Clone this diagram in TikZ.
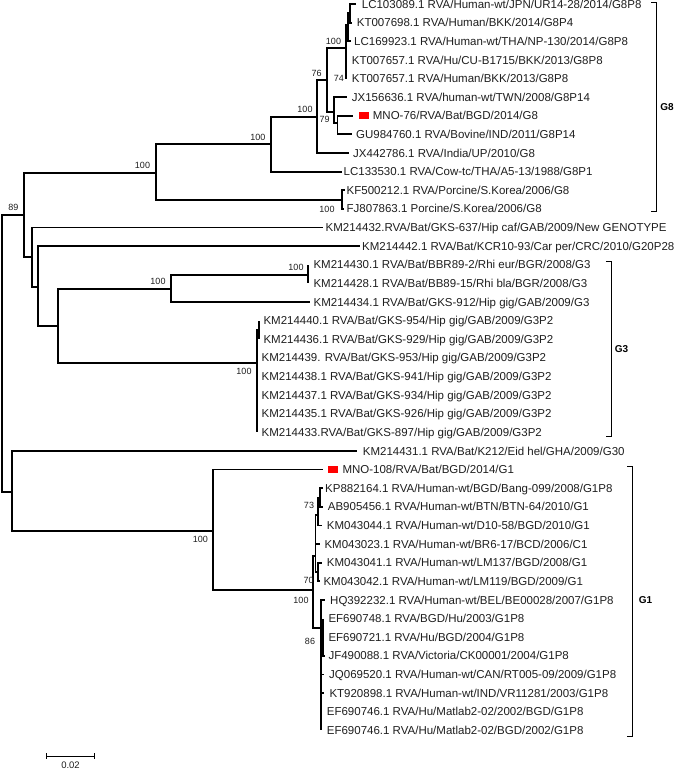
\documentclass[tikz,border=0pt]{standalone}
\usepackage{fontspec}
\setmainfont{Liberation Sans}
\begin{document}
\begin{tikzpicture}[x=1pt,y=-1pt,
  br/.style={line width=1.8pt, line join=miter},
  tip/.style={anchor=base west, inner sep=0pt, yshift=-4.1pt, font=\fontsize{11.5}{13}\selectfont, text=black!88},
  bs/.style={inner sep=0pt, font=\fontsize{9}{10}\selectfont, text=black!88},
  grp/.style={inner sep=0pt, font=\fontsize{10}{12}\selectfont\bfseries},
  brk/.style={line width=1pt, line join=miter},
  sq/.style={fill=red, draw=none, minimum width=10pt, minimum height=7.5pt, inner sep=0pt}]
\fill[white] (0,0) rectangle (676,769);
\useasboundingbox (0,0) rectangle (676,769);

% ---------- internal nodes ----------
\coordinate (root) at (2,353);
\coordinate (n89) at (24,215);
\coordinate (nG8) at (155.7,172.7);
\coordinate (n270) at (270.7,144.3);
\coordinate (nA) at (316.7,116.7);
\coordinate (nB) at (326.7,80);
\coordinate (nC) at (346,48.3);
\coordinate (nE) at (348,25);
\coordinate (nF) at (350,13);
\coordinate (nD) at (334,111.7);
\coordinate (nG) at (337.5,123);
\coordinate (nKF) at (341.7,200.3);
\coordinate (n32) at (32.3,257);
\coordinate (nH) at (38.3,286.7);
\coordinate (nI) at (57.7,326);
\coordinate (nJ) at (170.7,289.3);
\coordinate (nL) at (308.3,275.3);
\coordinate (nK) at (256.7,363.3);
\coordinate (nM) at (258.7,330);
\coordinate (nR) at (12.3,491.7);
\coordinate (nG1a) at (213.3,531);
\coordinate (nG1b) at (313.3,590);
\coordinate (n70) at (315.5,556);
\coordinate (n73) at (318,515);
\coordinate (nKP) at (320,498);
\coordinate (n41) at (318.3,572);
\coordinate (n86) at (320.7,628);
\coordinate (nEF) at (323.3,637.2);

% ---------- tip ends ----------
\coordinate (t1) at (356,4);
\coordinate (t2) at (352,22.6);
\coordinate (t3) at (351,41.2);
\coordinate (t4) at (346,59.9);
\coordinate (t5) at (346,78.5);
\coordinate (t6) at (346.7,97.1);
\coordinate (t7) at (353,115.7);
\coordinate (t8) at (351.7,134.3);
\coordinate (t9) at (349,153);
\coordinate (t10) at (341.7,171.6);
\coordinate (t11) at (345,190.2);
\coordinate (t12) at (344,208.8);
\coordinate (t13) at (323.3,227.4);
\coordinate (t14) at (359.5,246.1);
\coordinate (t15) at (308.3,264.7);
\coordinate (t16) at (308.3,283.3);
\coordinate (t17) at (310,301.9);
\coordinate (t18) at (258.7,320.5);
\coordinate (t19) at (258.7,339.2);
\coordinate (t20) at (256.7,357.8);
\coordinate (t21) at (256.7,376.4);
\coordinate (t22) at (256.7,395);
\coordinate (t23) at (256.7,413.6);
\coordinate (t24) at (256.7,432.3);
\coordinate (t25) at (356.7,450.9);
\coordinate (t26) at (323.3,469.5);
\coordinate (t27) at (323,488.1);
\coordinate (t28) at (323,506.7);
\coordinate (t29) at (322,525.4);
\coordinate (t30) at (320,544);
\coordinate (t31) at (321.5,562.6);
\coordinate (t32) at (320,581.3);
\coordinate (t33) at (324.5,599.9);
\coordinate (t34) at (323.3,618.5);
\coordinate (t35) at (323.3,637.2);
\coordinate (t36) at (325,655.8);
\coordinate (t37) at (323.5,674.4);
\coordinate (t38) at (323.5,693);
\coordinate (t39) at (320.7,711.7);
\coordinate (t40) at (320.7,730.3);

% ---------- branches ----------
\draw[br] (root) |- (n89);
\draw[br] (root) |- (nR);
\draw[br] (n89) |- (nG8);
\draw[br] (n89) |- (n32);
\draw[br] (nG8) |- (n270);
\draw[br] (nG8) |- (nKF);
\draw[br] (n270) |- (nA);
\draw[br] (n270) |- (t10);
\draw[br] (nA) |- (nB);
\draw[br] (nA) |- (t9);
\draw[br] (nB) |- (nC);
\draw[br] (nB) |- (nD);
\draw[br] (nC) |- (nE);
\draw[br] (nC) |- (t4);
\draw[br] (nC) |- (t5);
\draw[br] (nE) |- (nF);
\draw[br] (nE) |- (t3);
\draw[br] (nF) |- (t1);
\draw[br] (nF) |- (t2);
\draw[br] (nD) |- (t6);
\draw[br] (nD) |- (nG);
\draw[br] (nG) |- (t7);
\draw[br] (nG) |- (t8);
\draw[br] (nKF) |- (t11);
\draw[br] (nKF) |- (t12);
\draw[br] (n32) |- (t13);
\draw[br] (n32) |- (nH);
\draw[br] (nH) |- (t14);
\draw[br] (nH) |- (nI);
\draw[br] (nI) |- (nJ);
\draw[br] (nI) |- (nK);
\draw[br] (nJ) |- (nL);
\draw[br] (nJ) |- (t17);
\draw[br] (nL) |- (t15);
\draw[br] (nL) |- (t16);
\draw[br] (nK) |- (nM);
\draw[br] (nM) |- (t18);
\draw[br] (nM) |- (t19);
\draw[br] (nK) |- (t20);
\draw[br] (nK) |- (t21);
\draw[br] (nK) |- (t22);
\draw[br] (nK) |- (t23);
\draw[br] (nK) |- (t24);
\draw[br] (nR) |- (t25);
\draw[br] (nR) |- (nG1a);
\draw[br] (nG1a) |- (t26);
\draw[br] (nG1a) |- (nG1b);
\draw[br] (nG1b) |- (n70);
\draw[br] (nG1b) |- (n86);
\draw[br] (n70) |- (n73);
\draw[br] (n70) |- (t30);
\draw[br] (n70) |- (n41);
\draw[br] (n73) |- (nKP);
\draw[br] (n73) |- (t29);
\draw[br] (nKP) |- (t27);
\draw[br] (nKP) |- (t28);
\draw[br] (n41) |- (t31);
\draw[br] (n41) |- (t32);
\draw[br] (n86) |- (t33);
\draw[br] (n86) |- (nEF);
\draw[br] (nEF) |- (t34);
\draw[br] (nEF) |- (t35);
\draw[br] (nEF) |- (t36);
\draw[br] (n86) |- (t37);
\draw[br] (n86) |- (t38);
\draw[br] (n86) |- (t39);
\draw[br] (n86) |- (t40);

% ---------- bootstrap values ----------
\node[bs] (b89) at (13.3,207.3) {89};
\node[bs] (bG8) at (142.5,165) {100};
\node[bs] (b270) at (257.8,137.3) {100};
\node[bs] (bA) at (305,109.3) {100};
\node[bs] (b76) at (316.7,73.3) {76};
\node[bs] (bC) at (333.5,41.7) {100};
\node[bs] (b74) at (338.8,78.7) {74};
\node[bs] (b79) at (324.7,119.3) {79};
\node[bs] (bKF) at (327,209) {100};
\node[bs] (bJ) at (158,281.7) {100};
\node[bs] (bL) at (296,267.3) {100};
\node[bs] (bK) at (244,371.7) {100};
\node[bs] (bG1a) at (200.3,539.3) {100};
\node[bs] (bG1b) at (301,600) {100};
\node[bs] (b73) at (309,505) {73};
\node[bs] (b70) at (308.7,580) {70};
\node[bs] (b86) at (310,641) {86};

% ---------- highlighted taxa ----------
\node[sq] (s76) at (364.3,115.7) {};
\node[sq] (s108) at (333.3,469.7) {};

% ---------- tip labels ----------
\node[tip] (L1) at (361.7,4) {LC103089.1 RVA/Human-wt/JPN/UR14-28/2014/G8P8};
\node[tip] (L2) at (356.7,22.6) {KT007698.1 RVA/Human/BKK/2014/G8P4};
\node[tip] (L3) at (354,41.2) {LC169923.1 RVA/Human-wt/THA/NP-130/2014/G8P8};
\node[tip] (L4) at (351.7,59.9) {KT007657.1 RVA/Hu/CU-B1715/BKK/2013/G8P8};
\node[tip] (L5) at (351.7,78.5) {KT007657.1 RVA/Human/BKK/2013/G8P8};
\node[tip] (L6) at (351.7,97.1) {JX156636.1 RVA/human-wt/TWN/2008/G8P14};
\node[tip] (L7) at (372.7,115.7) {MNO-76/RVA/Bat/BGD/2014/G8};
\node[tip] (L8) at (356,134.3) {GU984760.1 RVA/Bovine/IND/2011/G8P14};
\node[tip] (L9) at (353,153) {JX442786.1 RVA/India/UP/2010/G8};
\node[tip] (L10) at (343.5,171.6) {LC133530.1 RVA/Cow-tc/THA/A5-13/1988/G8P1};
\node[tip] (L11) at (346.5,190.2) {KF500212.1 RVA/Porcine/S.Korea/2006/G8};
\node[tip] (L12) at (346.5,208.8) {FJ807863.1 Porcine/S.Korea/2006/G8};
\node[tip] (L13) at (325.5,227.4) {KM214432.RVA/Bat/GKS-637/Hip caf/GAB/2009/New GENOTYPE};
\node[tip] (L14) at (362,246.1) {KM214442.1 RVA/Bat/KCR10-93/Car per/CRC/2010/G20P28};
\node[tip] (L15) at (313.3,264.7) {KM214430.1 RVA/Bat/BBR89-2/Rhi eur/BGR/2008/G3};
\node[tip] (L16) at (313.3,283.3) {KM214428.1 RVA/Bat/BB89-15/Rhi bla/BGR/2008/G3};
\node[tip] (L17) at (313.5,301.9) {KM214434.1 RVA/Bat/GKS-912/Hip gig/GAB/2009/G3};
\node[tip] (L18) at (263.3,320.5) {KM214440.1 RVA/Bat/GKS-954/Hip gig/GAB/2009/G3P2};
\node[tip] (L19) at (263.3,339.2) {KM214436.1 RVA/Bat/GKS-929/Hip gig/GAB/2009/G3P2};
\node[tip] (L20) at (261.5,357.8) {KM214439. RVA/Bat/GKS-953/Hip gig/GAB/2009/G3P2};
\node[tip] (L21) at (261.5,376.4) {KM214438.1 RVA/Bat/GKS-941/Hip gig/GAB/2009/G3P2};
\node[tip] (L22) at (261.5,395) {KM214437.1 RVA/Bat/GKS-934/Hip gig/GAB/2009/G3P2};
\node[tip] (L23) at (261.5,413.6) {KM214435.1 RVA/Bat/GKS-926/Hip gig/GAB/2009/G3P2};
\node[tip] (L24) at (261.5,432.3) {KM214433.RVA/Bat/GKS-897/Hip gig/GAB/2009/G3P2};
\node[tip] (L25) at (362.7,450.9) {KM214431.1 RVA/Bat/K212/Eid hel/GHA/2009/G30};
\node[tip] (L26) at (342.3,469.5) {MNO-108/RVA/Bat/BGD/2014/G1};
\node[tip] (L27) at (325,488.1) {KP882164.1 RVA/Human-wt/BGD/Bang-099/2008/G1P8};
\node[tip] (L28) at (327.7,506.7) {AB905456.1 RVA/Human-wt/BTN/BTN-64/2010/G1};
\node[tip] (L29) at (326.7,525.4) {KM043044.1 RVA/Human-wt/D10-58/BGD/2010/G1};
\node[tip] (L30) at (324.3,544) {KM043023.1 RVA/Human-wt/BR6-17/BCD/2006/C1};
\node[tip] (L31) at (326.7,562.6) {KM043041.1 RVA/Human-wt/LM137/BGD/2008/G1};
\node[tip] (L32) at (323.3,581.3) {KM043042.1 RVA/Human-wt/LM119/BGD/2009/G1};
\node[tip] (L33) at (330,599.9) {HQ392232.1 RVA/Human-wt/BEL/BE00028/2007/G1P8};
\node[tip] (L34) at (328.3,618.5) {EF690748.1 RVA/BGD/Hu/2003/G1P8};
\node[tip] (L35) at (328.3,637.2) {EF690721.1 RVA/Hu/BGD/2004/G1P8};
\node[tip] (L36) at (328.3,655.8) {JF490088.1 RVA/Victoria/CK00001/2004/G1P8};
\node[tip] (L37) at (329,674.4) {JQ069520.1 RVA/Human-wt/CAN/RT005-09/2009/G1P8};
\node[tip] (L38) at (329.3,693) {KT920898.1 RVA/Human-wt/IND/VR11281/2003/G1P8};
\node[tip] (L39) at (326.7,711.7) {EF690746.1 RVA/Hu/Matlab2-02/2002/BGD/G1P8};
\node[tip] (L40) at (326.7,730.3) {EF690746.1 RVA/Hu/Matlab2-02/BGD/2002/G1P8};

% ---------- group brackets ----------
\coordinate (g8a) at (651.2,2.5);
\coordinate (g8b) at (656.7,2.5);
\coordinate (g8c) at (656.7,211.7);
\coordinate (g8d) at (651.2,211.7);
\draw[brk] (g8a) -- (g8b) -- (g8c) -- (g8d);
\node[grp] (G8) at (667,106.7) {G8};

\coordinate (g3a) at (605.8,261.7);
\coordinate (g3b) at (611.3,261.7);
\coordinate (g3c) at (611.3,436.7);
\coordinate (g3d) at (605.8,436.7);
\draw[brk] (g3a) -- (g3b) -- (g3c) -- (g3d);
\node[grp] (G3) at (621.5,349.3) {G3};

\coordinate (g1a) at (627.2,466);
\coordinate (g1b) at (632.7,466);
\coordinate (g1c) at (632.7,736);
\coordinate (g1d) at (627.2,736);
\draw[brk] (g1a) -- (g1b) -- (g1c) -- (g1d);
\node[grp] (G1) at (645.5,600) {G1};

% ---------- scale bar ----------
\coordinate (sb1) at (46.7,756);
\coordinate (sb2) at (94.3,756);
\draw[line width=1pt] (sb1) -- (sb2);
\draw[line width=1pt] (sb1) ++(0,-3) -- ++(0,6);
\draw[line width=1pt] (sb2) ++(0,-3) -- ++(0,6);
\node[bs, font=\fontsize{9.5}{10}\selectfont] (sbl) at (70.5,765) {0.02};
\end{tikzpicture}
\end{document}
